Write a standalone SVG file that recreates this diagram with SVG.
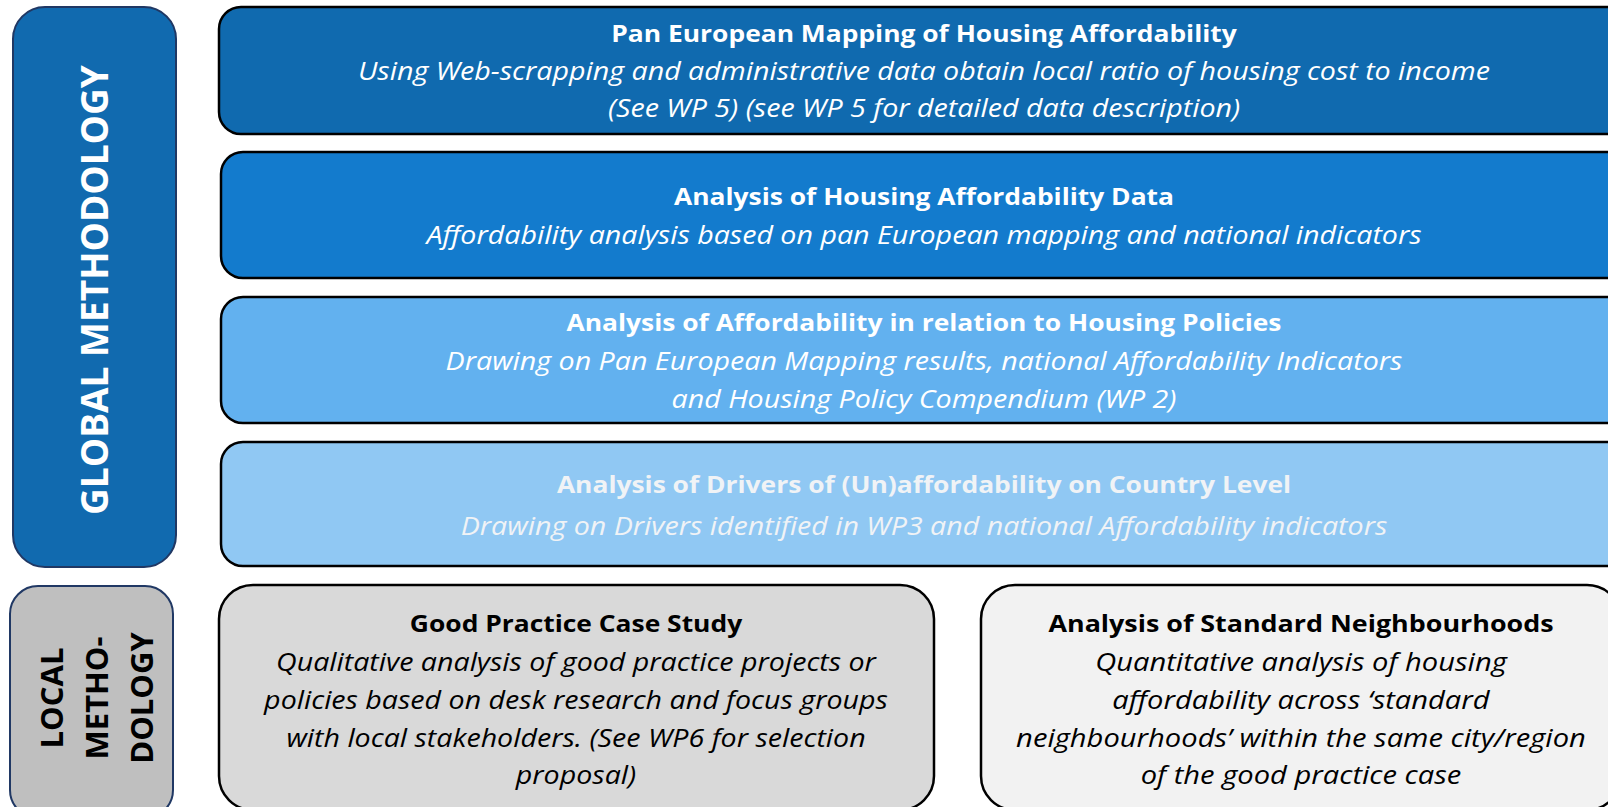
<svg xmlns="http://www.w3.org/2000/svg" width="1608" height="807" viewBox="0 0 1608 807">
  <style>
    text { font-family: "Open Sans", "Liberation Sans", sans-serif; text-anchor: middle; }
    .box { stroke: #000000; stroke-width: 2.5; }
    .side { stroke: #203864; stroke-width: 2; }
    .title { font-weight: bold; font-size: 24px; }
    .body { font-style: italic; font-size: 26px; }
    .light { fill: #ffffff; }
    .pale { fill: #F0F3F6; }
    .dark { fill: #000000; }
    .vert-global { font-weight: bold; font-size: 37px; fill: #ffffff; }
    .vert-local { font-weight: bold; font-size: 31px; fill: #000000; }
  </style>
  <rect width="1608" height="807" fill="#ffffff"/>

  <!-- Side labels -->
  <g id="global-methodology">
    <rect class="side" x="13" y="7" width="163" height="560" rx="32" fill="#116AAF"/>
    <text class="vert-global" transform="translate(108 290) rotate(-90)">GLOBAL METHODOLOGY</text>
  </g>
  <g id="local-methodology">
    <rect class="side" x="10" y="586" width="163" height="232" rx="28" fill="#BFBFBF"/>
    <text class="vert-local" transform="translate(63 698) rotate(-90)">LOCAL</text>
    <text class="vert-local" transform="translate(108 698) rotate(-90)">METHO-</text>
    <text class="vert-local" transform="translate(153 698) rotate(-90)">DOLOGY</text>
  </g>

  <!-- Global methodology steps (labels are set in a slightly widened face) -->
  <g id="pan-european-mapping">
    <rect class="box" x="219" y="7" width="1410" height="127" rx="22" fill="#106AAF"/>
    <g transform="translate(924 0) scale(1.1 1)">
      <text class="title light" x="0" y="42">Pan European Mapping of Housing Affordability</text>
      <text class="body light" x="0" y="80">Using Web-scrapping and administrative data obtain local ratio of housing cost to income</text>
      <text class="body light" x="0" y="117">(See WP 5) (see WP 5 for detailed data description)</text>
    </g>
  </g>
  <g id="affordability-data">
    <rect class="box" x="221" y="152" width="1410" height="126" rx="22" fill="#137BCD"/>
    <g transform="translate(924 0) scale(1.1 1)">
      <text class="title light" x="0" y="205">Analysis of Housing Affordability Data</text>
      <text class="body light" x="0" y="244">Affordability analysis based on pan European mapping and national indicators</text>
    </g>
  </g>
  <g id="housing-policies">
    <rect class="box" x="221" y="297" width="1410" height="126" rx="22" fill="#62B1EF"/>
    <g transform="translate(924 0) scale(1.1 1)">
      <text class="title light" x="0" y="331">Analysis of Affordability in relation to Housing Policies</text>
      <text class="body light" x="0" y="370">Drawing on Pan European Mapping results, national Affordability Indicators</text>
      <text class="body light" x="0" y="408">and Housing Policy Compendium (WP 2)</text>
    </g>
  </g>
  <g id="drivers">
    <rect class="box" x="221" y="442" width="1410" height="124" rx="22" fill="#90C8F3"/>
    <g transform="translate(924 0) scale(1.1 1)">
      <text class="title pale" x="0" y="493">Analysis of Drivers of (Un)affordability on Country Level</text>
      <text class="body pale" x="0" y="535">Drawing on Drivers identified in WP3 and national Affordability indicators</text>
    </g>
  </g>

  <!-- Local methodology steps -->
  <g id="good-practice">
    <rect class="box" x="219" y="585" width="715" height="225" rx="34" fill="#D9D9D9"/>
    <g transform="translate(576 0) scale(1.1 1)">
      <text class="title dark" x="0" y="632">Good Practice Case Study</text>
      <text class="body dark" x="0" y="671">Qualitative analysis of good practice projects or</text>
      <text class="body dark" x="0" y="709">policies based on desk research and focus groups</text>
      <text class="body dark" x="0" y="747">with local stakeholders. (See WP6 for selection</text>
      <text class="body dark" x="0" y="784">proposal)</text>
    </g>
  </g>
  <g id="standard-neighbourhoods">
    <rect class="box" x="981" y="585" width="640" height="225" rx="34" fill="#F2F2F2"/>
    <g transform="translate(1301 0) scale(1.12 1)">
      <text class="title dark" x="0" y="632">Analysis of Standard Neighbourhoods</text>
      <text class="body dark" x="0" y="671">Quantitative analysis of housing</text>
      <text class="body dark" x="0" y="709">affordability across ‘standard</text>
      <text class="body dark" x="0" y="747">neighbourhoods’ within the same city/region</text>
      <text class="body dark" x="0" y="784">of the good practice case</text>
    </g>
  </g>
</svg>
